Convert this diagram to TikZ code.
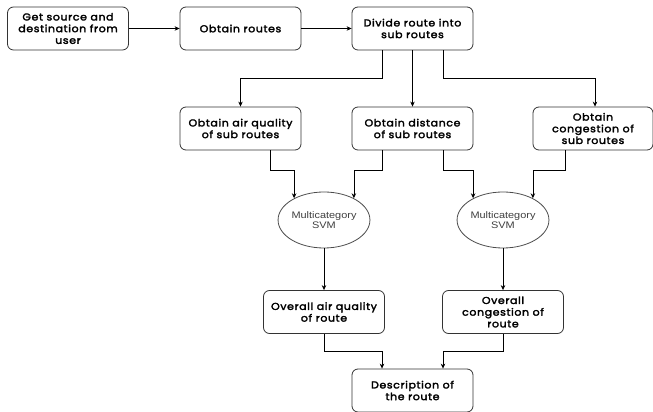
\documentclass[tikz,border=0pt]{standalone}
\usepackage{fontspec}
\setmainfont{Poppins}
\newfontfamily\stepfont{Poppins}[FakeStretch=1.1, LetterSpace=6, FakeBold=2.6]
\newfontfamily\svmfont{Liberation Sans}[FakeStretch=1.15]
\usetikzlibrary{arrows.meta,shapes.geometric}

\begin{document}
\begin{tikzpicture}[x=1pt, y=1pt,
    stepbox/.style={draw=black!80, line width=0.8pt, rounded corners=6pt,
        minimum width=121pt, minimum height=43pt, align=center,
        font=\stepfont\fontsize{10}{11.7}\selectfont, inner sep=1pt},
    svm/.style={draw=black!70, line width=0.8pt, ellipse, minimum width=82pt,
        minimum height=56pt, inner sep=0pt, align=center,
        text=black!75, font=\svmfont\fontsize{9.5}{10.5}\selectfont},
    flow/.style={-{Stealth[length=5pt, width=4.5pt]}, line width=0.7pt}]
    \useasboundingbox (0,0) rectangle (653,412);

    % Top row
    \node[stepbox] (source) at (68,383.5) {Get source and\\destination from\\user};
    \node[stepbox] (routes) at (240.5,383.5) {Obtain routes};
    \node[stepbox] (divide) at (412.5,383.5) {Divide route into\\sub routes};

    % Sub route data
    \node[stepbox] (air) at (240.5,283.5) {Obtain air quality\\of sub routes};
    \node[stepbox] (dist) at (412.5,283.5) {Obtain distance\\of sub routes};
    \node[stepbox, minimum width=120pt] (cong) at (593,283.5) {Obtain\\congestion of\\sub routes};

    % Classifiers
    \node[svm] (svmA) at (324,192) {Multicategory\\SVM};
    \node[svm] (svmB) at (503,192) {Multicategory\\SVM};

    % Results
    \node[stepbox] (airall) at (324,100) {Overall air quality\\of route};
    \node[stepbox] (congall) at (503,100) {Overall\\congestion of\\route};
    \node[stepbox] (desc) at (412.5,21.5) {Description of\\the route};

    % Connectors
    \draw[flow] (source) -- (routes);
    \draw[flow] (routes) -- (divide);
    \draw[flow] ([xshift=-30.5pt]divide.south) -- ++(0,-28) -| (air.north);
    \draw[flow] (divide) -- (dist);
    \draw[flow] ([xshift=30.5pt]divide.south) -- ++(0,-28) -| ([xshift=2pt]cong.north);
    \draw[flow] ([xshift=29.5pt]air.south) -- ++(0,-20) -| (svmA.144);
    \draw[flow] ([xshift=-30.5pt]dist.south) -- ++(0,-20) -| (svmA.36);
    \draw[flow] ([xshift=30.5pt]dist.south) -- ++(0,-20) -| (svmB.144);
    \draw[flow] ([xshift=-28pt]cong.south) -- ++(0,-20) -| (svmB.36);
    \draw[flow] (svmA) -- (airall);
    \draw[flow] (svmB) -- (congall);
    \draw[flow] (airall.south) -- ++(0,-17) -| ([xshift=-30.5pt]desc.north);
    \draw[flow] (congall.south) -- ++(0,-17) -| ([xshift=30.5pt]desc.north);
\end{tikzpicture}
\end{document}
